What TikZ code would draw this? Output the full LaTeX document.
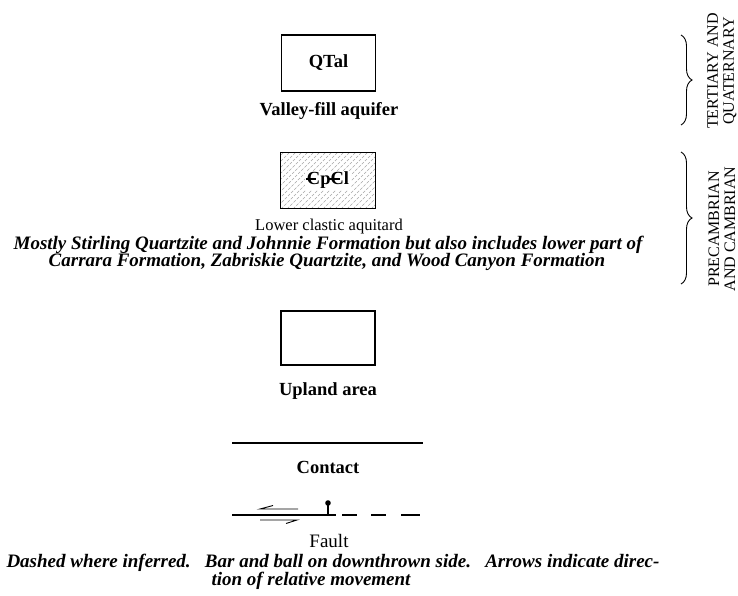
\documentclass[tikz,border=0pt]{standalone}
\usepackage{fontspec}
\setmainfont{Liberation Serif}
\usetikzlibrary{decorations.pathreplacing}
\newcommand{\cbar}{\rlap{\kern-0.06em\rule[0.27em]{0.56em}{0.08em}}C}
\begin{document}
\begin{tikzpicture}[x=1pt,y=-1pt,
  txt/.style={font=\fontsize{16.5}{20}\selectfont, inner sep=0pt},
  ftxt/.style={font=\fontsize{19}{20}\selectfont, inner sep=0pt},
  btxt/.style={font=\fontsize{18.5}{20}\selectfont\bfseries, inner sep=0pt},
  bitxt/.style={font=\fontsize{19}{20}\selectfont\bfseries\itshape, inner sep=0pt},
  era/.style={font=\fontsize{16}{16}\selectfont, inner sep=0pt, rotate=90, align=center},
  unitbox/.style={draw, line width=1.2pt, minimum width=94pt, inner sep=0pt},
  hatch/.style={gray!70, line width=0.5pt, dash pattern=on 3pt off 1.5pt},
  contactline/.style={line width=1.4pt},
  faultline/.style={line width=2pt},
  halfarrow/.style={line width=0.9pt},
  bracestyle/.style={decorate, decoration={brace, amplitude=11pt}, line width=0.9pt}
]
\useasboundingbox (0,0) rectangle (738,595);

% QTal
\node[unitbox, minimum height=56pt, btxt] (qtal) at (328.5,63) {QTal};
\node[btxt] (valley) at (329,111) {Valley-fill aquifer};

% CpCl
\node[unitbox, minimum height=55pt, draw=none] (cpcl) at (328,180.5) {};
\begin{scope}
  \clip (cpcl.south west) rectangle (cpcl.north east);
  \foreach \i in {200,206,...,400} \draw[hatch] (\i,212) -- ++(62,-62);
\end{scope}
\draw[line width=1.2pt] (cpcl.south west) rectangle (cpcl.north east);
\node[btxt, fill=white, inner sep=1.5pt] (cpcllabel) at (cpcl.center) {\cbar p\cbar l};
\node[txt] (lower) at (329,227) {Lower clastic aquitard};
\node[bitxt] (desc1) at (328,245) {Mostly Stirling Quartzite and Johnnie Formation but also includes lower part of};
\node[bitxt] (desc2) at (327,262) {Carrara Formation, Zabriskie Quartzite, and Wood Canyon Formation};

% Upland
\node[unitbox, minimum height=54pt] (upland) at (328,338) {};
\node[btxt] (uplandlabel) at (328,391) {Upland area};

% Contact
\coordinate (ca) at (232,443);
\coordinate (cb) at (423,443);
\draw[contactline] (ca) -- (cb);
\node[btxt] (contact) at (328,467) {Contact};

% Fault
\coordinate (fa) at (232,515);
\coordinate (fb) at (336,515);
\draw[faultline] (fa) -- (fb);
\coordinate (d1a) at (342,515); \coordinate (d1b) at (357,515);
\coordinate (d2a) at (371,515); \coordinate (d2b) at (386,515);
\coordinate (d3a) at (401,515); \coordinate (d3b) at (420,515);
\draw[faultline] (d1a) -- (d1b);
\draw[faultline] (d2a) -- (d2b);
\draw[faultline] (d3a) -- (d3b);
% bar and ball
\coordinate (barbase) at (328,515);
\coordinate (bartop) at (328,503);
\draw[line width=1.2pt] (barbase) -- (bartop);
\fill (bartop) circle (2.8pt);
% half arrows
\coordinate (ua) at (260,509); \coordinate (ub) at (298,509);
\draw[halfarrow] (ub) -- (ua) -- ++(13,-3.5);
\coordinate (la) at (260,520); \coordinate (lb) at (297,520);
\draw[halfarrow] (la) -- (lb) -- ++(-11,3.5);
\node[ftxt] (fault) at (329,541) {Fault};
\node[bitxt] (note1) at (333,563) {Dashed where inferred.\enskip\ Bar and ball on downthrown side.\enskip\ Arrows indicate direc-};
\node[bitxt] (note2) at (311,581) {tion of relative movement};

% eras
\coordinate (b1a) at (681,35); \coordinate (b1b) at (681,125);
\draw[bracestyle] (b1a) -- (b1b);
\coordinate (b2a) at (681,152); \coordinate (b2b) at (681,284);
\draw[bracestyle] (b2a) -- (b2b);
\node[era] (tq) at (722,71) {TERTIARY AND\\QUATERNARY};
\node[era] (pc) at (722,229) {PRECAMBRIAN\\AND CAMBRIAN};
\end{tikzpicture}
\end{document}
